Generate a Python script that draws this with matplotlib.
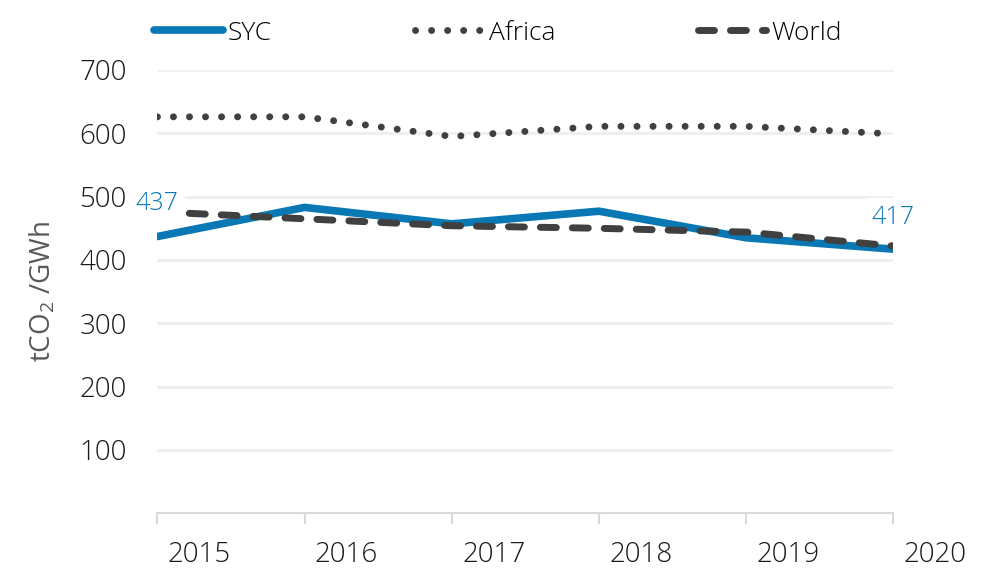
import matplotlib
matplotlib.use("Agg")
import matplotlib.pyplot as plt
from matplotlib.transforms import ScaledTranslation

plt.rcParams['font.family'] = ['Open Sans', 'DejaVu Sans']
plt.rcParams['font.weight'] = 300
plt.rcParams['mathtext.default'] = 'regular'

# dados
years = [2015, 2016, 2017, 2018, 2019, 2020]
syc = [437, 483, 457, 477, 435, 417]
africa = [626, 626, 595, 611, 611, 599]
world = [476, 465, 454, 450, 444, 422]
yticks = [100, 200, 300, 400, 500, 600, 700]

blue = '#0a78b4'
dark = '#404040'

fig = plt.figure(figsize=(9.96, 5.69), dpi=100)
ax = fig.add_axes([0.158, 0.098, 0.739, 0.779])

ax.plot(years, syc, color=blue, lw=5.5, solid_capstyle='round', label='SYC', zorder=3)
ax.plot(years, africa, color=dark, lw=5, linestyle=(0, (0.01, 2.3)),
        dash_capstyle='round', label='Africa', zorder=2)
ax.plot(years, world, color=dark, lw=5, linestyle=(0, (2.3, 2.3)),
        dash_capstyle='round', label='World', zorder=4)

# rótulos dos valores
box = dict(boxstyle='square,pad=0.25', fc='white', ec='none')
ax.annotate(str(syc[0]), (years[0], syc[0]), xytext=(0, 24), textcoords='offset points',
            ha='center', va='center', color=blue, fontsize=18, bbox=box, zorder=5,
            annotation_clip=False)
ax.annotate(str(syc[-1]), (years[-1], syc[-1]), xytext=(0, 23), textcoords='offset points',
            ha='center', va='center', color=blue, fontsize=18, bbox=box, zorder=5,
            annotation_clip=False)

ax.set_xlim(2015, 2020)
ax.set_ylim(0, 700)
ax.set_xticks(years)
ax.set_xticklabels([str(y) for y in years])
ax.set_yticks(yticks)
ax.grid(axis='y', color='#efefef', lw=2.2)
ax.set_axisbelow(True)

for s in ['top', 'right', 'left']:
    ax.spines[s].set_visible(False)
ax.spines['bottom'].set_color('#d9d9d9')
ax.spines['bottom'].set_linewidth(1.5)

ax.tick_params(axis='y', length=0, pad=22, labelsize=20, labelcolor='#1a1a1a')
ax.tick_params(axis='x', length=8, width=1.5, color='#d9d9d9', pad=12,
               labelsize=20, labelcolor='#1a1a1a')

off = ScaledTranslation(0.42, 0, fig.dpi_scale_trans)
for lbl in ax.get_xticklabels():
    lbl.set_transform(lbl.get_transform() + off)

ax.set_ylabel('tCO$_2$ /GWh', fontsize=20, color='#595959', labelpad=16)

fig.legend(loc='center', bbox_to_anchor=(0.5, 0.942), ncol=3, frameon=False,
           fontsize=19, handlelength=2.6, handletextpad=0.2, columnspacing=5.4)

fig.savefig('out.png', dpi=100)
